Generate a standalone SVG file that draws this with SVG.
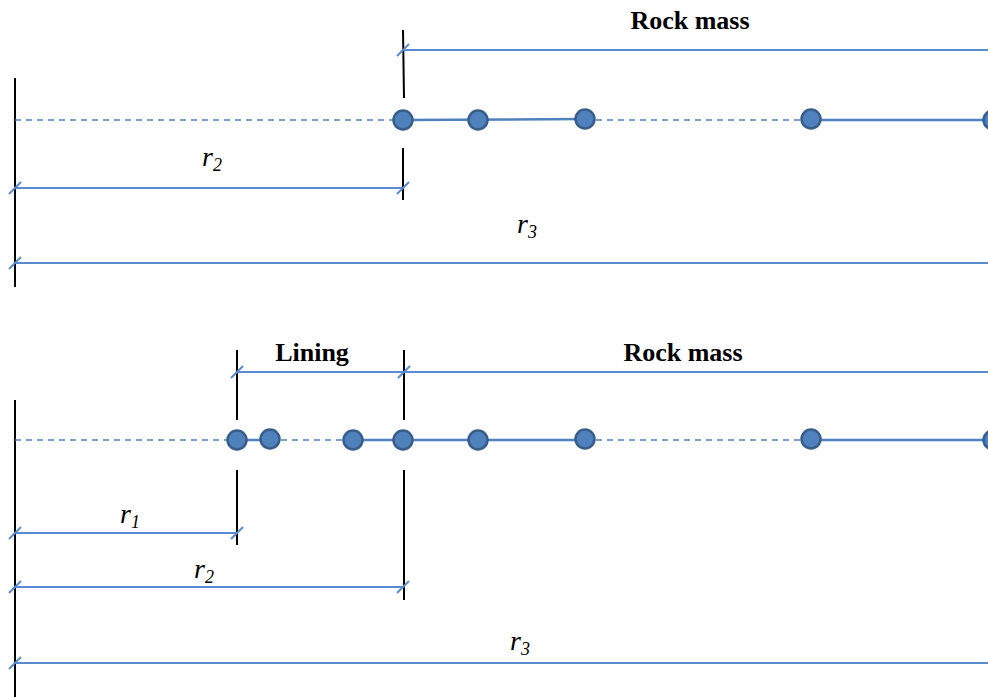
<svg xmlns="http://www.w3.org/2000/svg" width="988" height="697" viewBox="0 0 988 697">
<style>
.blk{stroke:#000;stroke-width:2;fill:none}
.dim{stroke:#5a8ad0;stroke-width:2;fill:none}
.tick{stroke:#5a8ad0;stroke-width:2}
.sol{stroke:#4f81bd;stroke-width:2.5;fill:none}
.dash{stroke:#4f81bd;stroke-width:1.5;stroke-dasharray:6,5;fill:none}
.nd{fill:#4f81bd;stroke:#385d8a;stroke-width:2.5}
.hd{font-family:"Liberation Serif",serif;font-weight:bold;font-size:26px;text-anchor:middle}
.lb{font-family:"Liberation Serif",serif;font-style:italic;font-size:28px;text-anchor:middle}
.sb{font-size:18px}
</style>
<rect width="988" height="697" fill="#fff"/>
<g id="connectors">
<line class="blk" x1="15" y1="78" x2="15" y2="287"/>
<line class="blk" x1="403" y1="30" x2="404" y2="98"/>
<line class="blk" x1="403" y1="148" x2="403" y2="200"/>
<line class="dim" x1="403" y1="50" x2="988" y2="50"/>
<line class="tick" x1="397" y1="56" x2="409" y2="44"/>
<line class="dash" x1="15" y1="120" x2="403" y2="120"/>
<line class="sol" x1="403" y1="120" x2="585" y2="119"/>
<line class="dash" x1="585" y1="120" x2="811" y2="120"/>
<line class="sol" x1="811" y1="120" x2="988" y2="120"/>
<line class="dim" x1="15" y1="188" x2="403" y2="188"/>
<line class="tick" x1="9" y1="194" x2="21" y2="182"/>
<line class="tick" x1="397" y1="194" x2="409" y2="182"/>
<line class="dim" x1="15" y1="263" x2="988" y2="263"/>
<line class="tick" x1="9" y1="269" x2="21" y2="257"/>
<line class="blk" x1="15" y1="400" x2="15" y2="697"/>
<line class="blk" x1="237" y1="350" x2="237" y2="420"/>
<line class="blk" x1="237" y1="470" x2="237" y2="545"/>
<line class="blk" x1="404" y1="350" x2="404" y2="420"/>
<line class="blk" x1="404" y1="470" x2="404" y2="600"/>
<line class="dim" x1="237" y1="372" x2="988" y2="372"/>
<line class="tick" x1="231" y1="378" x2="243" y2="366"/>
<line class="tick" x1="398" y1="378" x2="410" y2="366"/>
<line class="dash" x1="15" y1="440" x2="237" y2="440"/>
<line class="sol" x1="237" y1="440" x2="270" y2="440"/>
<line class="dash" x1="270" y1="440" x2="353" y2="440"/>
<line class="sol" x1="353" y1="440" x2="585" y2="440"/>
<line class="dash" x1="585" y1="440" x2="811" y2="440"/>
<line class="sol" x1="811" y1="440" x2="988" y2="440"/>
<line class="dim" x1="15" y1="533" x2="237" y2="533"/>
<line class="tick" x1="9" y1="539" x2="21" y2="527"/>
<line class="tick" x1="231" y1="539" x2="243" y2="527"/>
<line class="dim" x1="15" y1="587" x2="403" y2="587"/>
<line class="tick" x1="9" y1="593" x2="21" y2="581"/>
<line class="tick" x1="397" y1="593" x2="409" y2="581"/>
<line class="dim" x1="15" y1="663" x2="988" y2="663"/>
<line class="tick" x1="9" y1="669" x2="21" y2="657"/>
</g>
<g id="nodes-top">
<circle class="nd" cx="403" cy="120" r="9.5"/>
<circle class="nd" cx="478" cy="120" r="9.5"/>
<circle class="nd" cx="585" cy="119" r="9.5"/>
<circle class="nd" cx="811" cy="119" r="9.5"/>
<circle class="nd" cx="993" cy="120" r="9.5"/>
</g>
<g id="nodes-bottom">
<circle class="nd" cx="237" cy="440" r="9.5"/>
<circle class="nd" cx="270" cy="439" r="9.5"/>
<circle class="nd" cx="353" cy="440" r="9.5"/>
<circle class="nd" cx="403" cy="440" r="9.5"/>
<circle class="nd" cx="478" cy="440" r="9.5"/>
<circle class="nd" cx="585" cy="439" r="9.5"/>
<circle class="nd" cx="811" cy="439" r="9.5"/>
<circle class="nd" cx="993" cy="440" r="9.5"/>
</g>
<g id="labels">
<text class="hd" x="690" y="29">Rock mass</text>
<text class="hd" x="312" y="361">Lining</text>
<text class="hd" x="683" y="361">Rock mass</text>
<text class="lb" x="212" y="166">r<tspan class="sb" dy="5">2</tspan></text>
<text class="lb" x="527" y="233">r<tspan class="sb" dy="5">3</tspan></text>
<text class="lb" x="130" y="523">r<tspan class="sb" dy="5">1</tspan></text>
<text class="lb" x="204" y="578">r<tspan class="sb" dy="5">2</tspan></text>
<text class="lb" x="520" y="650">r<tspan class="sb" dy="5">3</tspan></text>
</g>
</svg>
